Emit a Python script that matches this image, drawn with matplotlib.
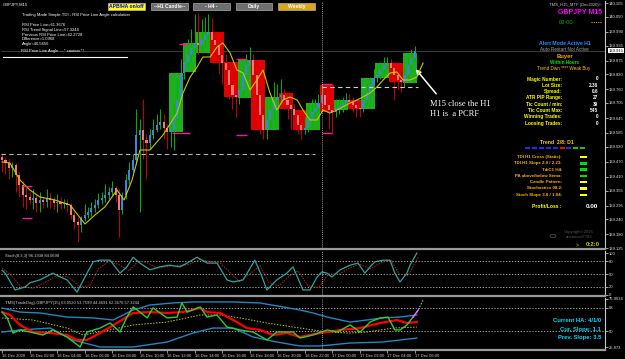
import numpy as np
import matplotlib
matplotlib.use('Agg')
import matplotlib.pyplot as plt
from matplotlib.patches import Rectangle, Circle
from matplotlib.lines import Line2D

plt.rcParams['font.family'] = ['Liberation Sans', 'DejaVu Sans']

# ---------------- data ----------------
# M15 candles (bar 0 = 16 Dec 2020 00:00)
first_open = 139.490
m15_close = [139.477, 139.465, 139.445, 139.457, 139.417, 139.377, 139.337, 139.329, 139.317, 139.325,
             139.305, 139.317, 139.309, 139.325, 139.317, 139.305, 139.309, 139.301, 139.305, 139.297,
             139.257, 139.229, 139.217, 139.245, 139.257, 139.269, 139.285, 139.297, 139.317, 139.325,
             139.337, 139.349, 139.365, 139.337, 139.277, 139.337, 139.397, 139.437, 139.477, 139.577,
             139.597, 139.557, 139.545, 139.577, 139.597, 139.617, 139.629, 139.605, 139.589, 139.597,
             139.645, 139.717, 139.825, 139.869, 139.897, 139.925, 139.945, 139.937, 139.957, 139.977,
             139.989, 139.957, 139.937, 139.897, 139.865, 139.837, 139.777, 139.737, 139.729, 139.757,
             139.817, 139.857, 139.877, 139.817, 139.737, 139.657, 139.597, 139.637, 139.677, 139.717,
             139.729, 139.737, 139.717, 139.697, 139.681, 139.657, 139.617, 139.597, 139.605, 139.637,
             139.669, 139.685, 139.705, 139.737, 139.697, 139.677, 139.669, 139.685, 139.693, 139.705,
             139.717, 139.709, 139.697, 139.685, 139.681, 139.717, 139.749, 139.777, 139.805, 139.817,
             139.837, 139.857, 139.865, 139.845, 139.817, 139.797, 139.789, 139.817, 139.857, 139.885,
             139.915]
m15_high = [139.505, 139.490, 139.480, 139.470, 139.465, 139.430, 139.395, 139.370, 139.350, 139.360,
            139.340, 139.350, 139.335, 139.360, 139.345, 139.330, 139.340, 139.330, 139.320, 139.320,
            139.305, 139.270, 139.250, 139.255, 139.300, 139.290, 139.310, 139.320, 139.345, 139.350,
            139.380, 139.370, 139.395, 139.375, 139.360, 139.350, 139.420, 139.470, 139.500, 139.680,
            139.640, 139.720, 139.580, 139.600, 139.640, 139.660, 139.680, 139.660, 139.620, 139.620,
            139.700, 139.800, 139.880, 139.940, 139.960, 140.000, 140.060, 140.065, 140.040, 140.050,
            140.060, 140.045, 139.990, 139.960, 139.930, 139.900, 139.860, 139.800, 139.780, 139.800,
            139.860, 139.900, 139.930, 139.900, 139.830, 139.760, 139.680, 139.720, 139.720, 139.790,
            139.780, 139.800, 139.760, 139.740, 139.720, 139.700, 139.680, 139.640, 139.650, 139.700,
            139.720, 139.720, 139.740, 139.780, 139.770, 139.720, 139.700, 139.720, 139.720, 139.730,
            139.745, 139.740, 139.730, 139.720, 139.710, 139.740, 139.780, 139.810, 139.840, 139.860,
            139.870, 139.890, 139.890, 139.880, 139.860, 139.840, 139.830, 139.850, 139.890, 139.920,
            139.935]
m15_low = [139.430, 139.420, 139.400, 139.410, 139.350, 139.330, 139.290, 139.280, 139.300, 139.280,
           139.270, 139.270, 139.285, 139.290, 139.285, 139.280, 139.270, 139.280, 139.285, 139.270,
           139.240, 139.200, 139.150, 139.190, 139.235, 139.245, 139.255, 139.270, 139.285, 139.300,
           139.310, 139.320, 139.335, 139.310, 139.170, 139.260, 139.320, 139.380, 139.430, 139.460,
           139.270, 139.480, 139.400, 139.520, 139.560, 139.590, 139.600, 139.560, 139.520, 139.530,
           139.517, 139.620, 139.700, 139.800, 139.850, 139.870, 139.900, 139.900, 139.910, 139.930,
           139.950, 139.920, 139.880, 139.820, 139.780, 139.790, 139.720, 139.680, 139.650, 139.700,
           139.730, 139.800, 139.830, 139.780, 139.700, 139.580, 139.560, 139.560, 139.600, 139.640,
           139.690, 139.700, 139.680, 139.640, 139.600, 139.600, 139.580, 139.560, 139.580, 139.590,
           139.620, 139.650, 139.670, 139.690, 139.680, 139.600, 139.580, 139.650, 139.660, 139.670,
           139.690, 139.680, 139.670, 139.650, 139.650, 139.670, 139.700, 139.730, 139.760, 139.790,
           139.800, 139.820, 139.840, 139.810, 139.717, 139.760, 139.750, 139.770, 139.800, 139.840,
           139.870]

# H1 boxes (start bar, open, close)
h1_start = [49, 53, 57, 61, 65, 69, 73, 77, 81, 85, 89, 93, 97, 101, 105, 109, 113, 117]
h1_open = [139.589, 139.829, 139.905, 139.989, 139.869, 139.725, 139.877, 139.597, 139.745,
           139.677, 139.597, 139.777, 139.677, 139.717, 139.681, 139.805, 139.865, 139.785]
h1_close = [139.825, 139.945, 139.989, 139.865, 139.729, 139.877, 139.597, 139.729, 139.681,
            139.597, 139.705, 139.669, 139.717, 139.681, 139.805, 139.865, 139.789, 139.905]

# yellow moving average
ma_bar = [0, 2.3, 5.2, 8.1, 11.0, 15.4, 19.8, 24.1, 27.0, 29.9, 33.4, 35.5, 37.8, 40.1, 43.0,
          46.8, 50.9, 52.6, 54.7, 56.7, 58.4, 60.5, 62.5, 64.2, 66.3, 68.3, 70.1, 72.1, 74.1, 75.9,
          77.9, 79.9, 81.7, 83.7, 85.8, 87.5, 89.5, 91.6, 93.3, 95.3, 97.4, 101.2, 103.2, 104.9,
          107.0, 109.0, 110.8, 112.8, 114.8, 116.6, 118.6, 120.6, 122.4]
ma_price = [139.469, 139.465, 139.397, 139.357, 139.329, 139.317, 139.297, 139.221, 139.257,
            139.289, 139.357, 139.317, 139.397, 139.517, 139.517, 139.577, 139.665, 139.745,
            139.809, 139.849, 139.889, 139.889, 139.929, 139.945, 139.905, 139.837, 139.825,
            139.757, 139.797, 139.837, 139.745, 139.677, 139.717, 139.729, 139.717, 139.677,
            139.637, 139.637, 139.677, 139.665, 139.677, 139.705, 139.717, 139.729, 139.745,
            139.769, 139.797, 139.825, 139.829, 139.797, 139.797, 139.809, 139.865]

# magenta H1 high/low markers
mk_bar0 = [5.8, 5.8, 49.4, 51.5, 68.0, 68.0, 93.0, 93.0]
mk_bar1 = [8.7, 8.7, 54.7, 54.4, 71.2, 71.2, 96.0, 96.0]
mk_price = [139.373, 139.245, 139.585, 139.941, 139.881, 139.577, 139.781, 139.585]

price_ticks = [140.105, 140.050, 139.990, 139.935, 139.875, 139.820, 139.760, 139.705, 139.645,
               139.585, 139.530, 139.470, 139.410, 139.355, 139.295, 139.240, 139.180, 139.125]

# stochastic
st_bar = [0, 0.9, 3.8, 6.7, 8.1, 11, 14.8, 16.9, 18.9, 21.8, 24.7, 26.5, 28.5, 31.4, 34.3, 36.3,
          38.1, 40.1, 43, 45.9, 48.8, 51.7, 53.8, 56.7, 59.6, 62.5, 65.4, 67.2, 70.1, 73.5, 75.6,
          77, 79.9, 82.8, 84.6, 87.5, 89.5, 91.6, 93, 94.5, 95.9, 98.3, 101.2, 103.5, 105.5, 107,
          108.4, 110.8, 112.8, 114.2, 115.7, 117.7, 118.6, 120.6]
st_main = [59, 52, 12, 19, 29, 36, 52, 43, 36, 7, 52, 79, 83, 83, 52, 67, 90, 76, 60, 67, 71, 67,
           76, 90, 76, 76, 36, 31, 36, 83, 43, 12, 36, 52, 67, 12, 12, 43, 55, 52, 43, 60, 71, 76,
           52, 67, 79, 83, 83, 52, 31, 52, 71, 100]
sg_bar = [0, 2.5, 5.5, 9.0, 12.5, 16.0, 19.5, 22.5, 25.5, 28.0, 31.0, 34.0, 37.0, 39.5, 42.0,
          45.0, 48.0, 51.0, 54.0, 57.5, 60.5, 63.5, 66.5, 69.0, 72.0, 75.0, 77.5, 80.5, 83.5, 86.0,
          89.0, 92.0, 95.0, 98.0, 101.0, 104.0, 107.0, 110.0, 113.0, 115.5, 118.0, 121.0]
sg_val = [64, 48, 20, 16, 30, 46, 42, 20, 22, 62, 80, 72, 58, 80, 78, 64, 68, 70, 72, 84, 80, 76,
          52, 32, 50, 70, 30, 22, 45, 58, 22, 18, 50, 50, 64, 74, 62, 76, 84, 50, 46, 90]

# TDI
up_bar = [0, 5.2, 11.0, 18.9, 26.5, 32.3, 38.1, 43.0, 49.7, 55.5, 67.2, 75.0, 81.7, 86.6, 90.4,
          94.5, 101.2, 106.1, 110.8, 115.7, 120.6]
up_val = [68.0, 64.8, 64.1, 60.9, 60.2, 58.6, 66.4, 70.3, 71.9, 72.7, 72.7, 71.9, 68.75, 66.4,
          64.1, 60.9, 57.0, 58.6, 60.2, 60.9, 62.5]
lo_bar = [0, 5.2, 14.0, 20.6, 28.5, 38.1, 48.0, 55.5, 61.3, 67.2, 73.0, 79.9, 86.6, 92.4, 101.2,
          110.8, 120.6]
lo_val = [49.2, 50.8, 52.3, 43.0, 37.5, 37.5, 41.4, 48.4, 52.3, 52.3, 45.3, 41.4, 38.3, 38.3,
          40.6, 41.4, 44.5]
red_bar = [0, 2.3, 5.2, 9.0, 14.0, 18.9, 21.8, 24.7, 28.5, 33.4, 38.1, 43.0, 48.0, 52.6, 57.6,
           59.6, 63.4, 67.2, 71.2, 75.0, 78.8, 82.8, 86.6, 92.4, 98.3, 104.1, 109.9, 114.8, 117.7,
           120.6]
red_val = [64.8, 62.5, 54.7, 49.2, 48.4, 46.9, 43.0, 43.0, 48.4, 56.25, 64.1, 64.8, 64.1, 64.8,
           68.0, 64.8, 64.1, 58.6, 52.3, 50.8, 46.9, 48.4, 45.3, 48.4, 50.8, 52.3, 56.25, 58.6,
           56.25, 57.0]
grn_bar = [0, 1.5, 3.2, 5.2, 8.1, 11.9, 14.8, 18.9, 22.7, 24.7, 28.5, 31.4, 34.3, 36.3, 38.1,
           40.1, 42.2, 43.9, 48.0, 50.9, 52.3, 53.8, 57.6, 59.6, 62.5, 65.4, 69.2, 73.0, 77.0,
           79.9, 84.6, 86.6, 90.4, 94.5, 97.4, 101.2, 104.1, 107.0, 109.9, 112.2, 114.2, 115.7,
           117.7, 119.5]
grn_val = [64.8, 60.2, 48.4, 50.8, 49.2, 46.9, 50.8, 45.3, 37.5, 49.2, 52.3, 56.25, 49.2, 60.9,
           68.75, 64.8, 60.2, 68.0, 60.2, 60.9, 71.9, 64.8, 68.75, 60.9, 62.5, 53.1, 50.8, 49.2,
           43.0, 49.2, 49.2, 44.5, 46.9, 50.8, 49.2, 54.7, 49.2, 57.0, 60.2, 60.9, 50.8, 50.8,
           54.7, 60.9]
grn_ext_bar = [119.5, 121.0, 122.4]
grn_ext_val = [60.9, 66.4, 74.2]
yel_bar = [0, 9.0, 18.9, 23.5, 28.5, 38.1, 48.0, 57.6, 63.4, 69.2, 77.0, 86.6, 94.5, 101.2,
           106.1, 113.7, 120.6]
yel_val = [60.2, 58.6, 52.3, 46.9, 49.2, 54.7, 57.0, 62.5, 62.5, 60.2, 56.25, 52.3, 49.2, 48.4,
           49.2, 52.3, 53.1]

time_bars = [0, 8, 16, 24, 32, 40, 48, 56, 64, 72, 80, 88, 96, 104, 112, 120]
time_labels = ['16 Dec 2020', '16 Dec 02:00', '16 Dec 04:00', '16 Dec 06:00', '16 Dec 08:00',
               '16 Dec 10:00', '16 Dec 12:00', '16 Dec 14:00', '16 Dec 16:00', '16 Dec 18:00',
               '16 Dec 20:00', '16 Dec 22:00', '17 Dec 00:00', '17 Dec 02:00', '17 Dec 04:00',
               '17 Dec 06:00']

info_labels = ['Magic Number:', 'Lot Size:', 'Spread:', 'ATR PIP Range:', 'Tic Count / min:',
               'Tic Count Max:', 'Winning Trades:', 'Loosing Trades:']
info_values = ['0', '2.36', '0.6', '27', '39', '545', '0', '0']
trend_colors = ['#1a2cff'] * 5 + ['#ff0000', '#1a2cff', '#00d000', '#00d000']
ind_labels = ['TDI H1 Cross (Static):', 'TDI H1 Slope 2.0 / 2.23:', 'TdiC1 H4:',
              'PA above/below Sema:', 'Candle Pattern:', 'Stochastics 08.2:',
              'Stoch Slope 3.0 / 1.04:']
ind_colors = ['#ffff00', '#00e000', '#00e000', '#00e000', '#ffff00', '#ffff00', '#ffff00']

# ---------------- figure ----------------
W, H = 625, 359
fig = plt.figure(figsize=(W / 100, H / 100), dpi=100, facecolor='black')


def panel(y0, y1):
    a = fig.add_axes([1 / W, 1 - y1 / H, 604 / W, (y1 - y0) / H])
    a.set_facecolor('black')
    a.set_xlim(-0.3, 175.3)
    a.spines['left'].set_visible(False)
    a.spines['top'].set_visible(False)
    a.spines['right'].set_color('#c8c8c8')
    a.spines['right'].set_linewidth(0.8)
    a.spines['bottom'].set_color('#9a9a9a')
    a.spines['bottom'].set_linewidth(1.6)
    a.yaxis.tick_right()
    a.tick_params(axis='y', colors='#e0e0e0', labelsize=3, length=2, width=0.5, pad=1)
    a.tick_params(axis='x', bottom=False, labelbottom=False)
    return a


def ftext(x, y, s, **kw):
    kw.setdefault('va', 'center')
    fig.text(x / W, 1 - y / H, s, **kw)


def fline(x0, x1, y0, y1, **kw):
    fig.add_artist(Line2D([x0 / W, x1 / W], [1 - y0 / H, 1 - y1 / H], transform=fig.transFigure, **kw))


def frect(x0, y0, x1, y1, fc, ec='none', lw=0.5):
    fig.add_artist(Rectangle((x0 / W, 1 - y1 / H), (x1 - x0) / W, (y1 - y0) / H,
                             transform=fig.transFigure, facecolor=fc, edgecolor=ec, lw=lw))


# ---- main price panel ----
ax = panel(1, 249)
ax.set_ylim(139.121, 140.113)
ax.set_yticks(price_ticks)
ax.set_yticklabels([f'{p:.3f}' for p in price_ticks])

close = np.array(m15_close)
opn = np.r_[first_open, close[:-1]]
high = np.array(m15_high)
low = np.array(m15_low)
bars = np.arange(len(close))
up = close >= opn

# H1 boxes
for s, o, c in zip(h1_start, h1_open, h1_close):
    ax.bar(s - 0.5, c - o, bottom=o, width=4, align='edge',
           color='#1fae1f' if c >= o else '#e00000', zorder=1)

ax.vlines(bars[up], low[up], high[up], color='#00b800', lw=0.7, zorder=2)
ax.vlines(bars[~up], low[~up], high[~up], color='#c80000', lw=0.7, zorder=2)
body = np.where(np.abs(close - opn) < 0.003, 0.003, close - opn)
ax.bar(bars[up], body[up], bottom=opn[up], width=0.6, color='#3c84e0', zorder=3)
ax.bar(bars[~up], body[~up], bottom=opn[~up], width=0.6, color='#f07a7a', zorder=3)

ax.plot(ma_bar, ma_price, color='#c8c800', lw=0.8, zorder=4)
ax.hlines(mk_price, mk_bar0, mk_bar1, color='#ff1493', lw=1.0, zorder=4)

ax.hlines(139.501, -0.3, 91, color='#b0b0b0', lw=0.8, ls=(0, (4, 3)), zorder=4)
ax.hlines(139.769, 93, 121, color='#d0d0d0', lw=0.8, ls=(0, (4, 3)), zorder=4)
ax.axhline(close[-1], color='#555555', lw=0.5, zorder=0)
ax.annotate(f'{close[-1]:.3f}', xy=(1.006, close[-1]), xycoords=('axes fraction', 'data'),
            fontsize=3, color='black', va='center', ha='left',
            bbox=dict(boxstyle='square,pad=0.15', fc='white', ec='none'))

# ---- stochastic panel ----
ax_st = panel(251, 296)
ax_st.set_ylim(-2.4, 104.8)
ax_st.set_yticks([100, 80, 50, 20, 0])
for lvl in (80, 50, 20):
    ax_st.axhline(lvl, color='#c0c0c0', lw=0.6, ls=(0, (1.5, 2)))
ax_st.plot(sg_bar, sg_val, color='#c02020', lw=0.7, ls=(0, (1.5, 1.2)))
ax_st.plot(st_bar, st_main, color='#2aa5a5', lw=0.9)
ax_st.text(0.006, 0.9, 'Stoch(8,3,3) 96.1938 84.0698', transform=ax_st.transAxes,
           fontsize=3, color='#d0d0d0', va='center')

# ---- TDI panel ----
ax_t = panel(298, 350)
ax_t.set_ylim(35.16, 75.78)
ax_t.set_yticks([75.2, 68, 50, 37.5])
ax_t.set_yticklabels(['75.9634', '68', '50', '25.873'])
for lvl in (68, 50):
    ax_t.axhline(lvl, color='#c0c0c0', lw=0.6, ls=(0, (1.5, 2)))
ax_t.plot(up_bar, up_val, color='#1e88c0', lw=1.0)
ax_t.plot(lo_bar, lo_val, color='#1e88c0', lw=1.0)
ax_t.plot(yel_bar, yel_val, color='#c8c800', lw=0.7, ls=(0, (1.5, 1.5)))
ax_t.plot(red_bar, red_val, color='#ff0000', lw=1.6)
ax_t.plot(grn_bar, grn_val, color='#33cc33', lw=1.0)
ax_t.plot(grn_ext_bar, grn_ext_val, color='#40c8c8', lw=0.8, ls=(0, (1.5, 1.2)))
ax_t.plot(grn_ext_bar[:2], grn_ext_val[:2], color='#ff66ff', lw=1.0)
ax_t.text(0.006, 0.9, 'TMS(TradeDog)-GBPJPY(15) 63.0520 53.7599 44.4691 62.3676 57.3244',
          transform=ax_t.transAxes, fontsize=3, color='#d0d0d0', va='center')
ax_t.set_xticks(time_bars)
ax_t.set_xticklabels(time_labels, ha='left')
ax_t.tick_params(axis='x', bottom=True, labelbottom=True, colors='#d0d0d0', labelsize=3,
                 length=2, width=0.5, pad=1)

for a in (ax, ax_st, ax_t):
    a.axvline(93.0, color='#c8c8c8', lw=0.6, ls=(0, (1, 1.5)), zorder=5)

# ---------------- overlay texts ----------------
ftext(3, 5, 'GBPJPY,M15', fontsize=3, color='white')
ftext(22, 15, 'Trading Made Simple.TDI - RSI Price Line Angle calculation', fontsize=3, color='white')
left_lines = ['RSI Price Line=61.3676', 'RSI Trend Signal Line=57.3244',
              'Previous RSI Price Line=62.2728', 'Difference=1.0968', 'Angle=46.5656']
for k, s in enumerate(left_lines):
    ftext(22, 25 + 4.8 * k, s, fontsize=3, color='white')
ftext(21, 51, 'RSI Price Line Angle ... * caution *!', fontsize=3, color='white')
fline(3, 127, 57, 57, color='white', lw=0.8)

# buttons
buttons = [(108, 145, 'APB/HA on/off', '#ffff00', '#0000ff'),
           (151, 188, '--H1 Candle--', '#6e6e6e', 'white'),
           (193, 230, '- H4 -', '#6e6e6e', 'white'),
           (236, 272, 'Daily', '#6e6e6e', 'white'),
           (278, 315, 'Weekly', '#daa520', 'white')]
for x0, x1, lab, fc, tc in buttons:
    frect(x0, 3, x1, 10, fc, ec='#c8c8c8', lw=0.4)
    ftext((x0 + x1) / 2, 6.6, lab, ha='center', fontsize=3.6, fontweight='bold', color=tc)

# top right
ftext(602, 5, 'TMS_H15_MTF (Dec2020)\u00a9', ha='right', fontsize=3, color='#c8c8c8')
ftext(602, 12, 'GBPJPY M15', ha='right', fontsize=5, fontweight='bold', color='#ff00ff')
ftext(566, 22, '02:00', ha='center', fontsize=4.2, color='#00b000')
fline(591, 601, 21.5, 21.5, color='#d4b000', lw=0.8, ls=(0, (1, 1)))

ftext(565, 43.5, 'Alert Mode Active H1', ha='center', fontsize=3.7, fontweight='bold', color='#1e90ff')
ftext(564, 49.5, 'Auto Restart Not Active', ha='center', fontsize=3.3, color='#a8a8a8')
ftext(565, 56.5, 'Buyer', ha='center', fontsize=4.2, fontweight='bold', color='#ffa500')
ftext(565, 62.5, 'Within Hours', ha='center', fontsize=3.3, fontweight='bold', color='#00e000')
ftext(564, 68.5, 'Trend Dwn **** Weak Buy', ha='center', fontsize=3.3, color='#ffc000')

for k, (lab, val) in enumerate(zip(info_labels, info_values)):
    y = 79 + 6.3 * k
    ftext(562, y, lab, ha='right', fontsize=3.4, fontweight='bold', color='#ffff00')
    ftext(598, y, val, ha='right', fontsize=3.4, fontweight='bold', color='white')

ftext(557, 142.5, 'Trend  2/8: D1', ha='center', fontsize=3.7, fontweight='bold', color='#ffcc00')
for k, c in enumerate(trend_colors):
    x0 = 525 + 6.9 * k
    frect(x0, 147, x0 + 5, 149.5, c)

for k, (lab, c) in enumerate(zip(ind_labels, ind_colors)):
    y = 157 + 6.3 * k
    ftext(562, y, lab, ha='right', fontsize=3.2, fontweight='bold', color='#ffb000')
    frect(580, y - 1.2, 587, y + 1.2, c)

ftext(562, 206, 'Profit/Loss :', ha='right', fontsize=3.6, fontweight='bold', color='#ffff00')
ftext(598, 206, '0.00', ha='right', fontsize=4.6, fontweight='bold', color='white')

fig.add_artist(Circle((553 / W, 1 - 236 / H), 3 / W, transform=fig.transFigure,
                      facecolor='none', edgecolor='#505050', lw=0.6))
ftext(579, 231.5, 'Copyright\u00a92016', ha='center', fontsize=3, color='#555555')
ftext(579, 237.5, 'aristocool7783', ha='center', fontsize=3, color='#555555')
ftext(577, 245, '>', ha='center', fontsize=3.8, color='#d4d000')
ftext(600, 245, '0:2:0', ha='right', fontsize=4.2, fontweight='bold', color='#d4d000')

# arrow + note
ax.annotate('', xy=(414, H - 67), xycoords='figure pixels', xytext=(438, H - 96),
            textcoords='figure pixels',
            arrowprops=dict(arrowstyle='-|>', color='white', lw=1.1, mutation_scale=7))
ftext(430, 104, 'M15 close the H1', fontsize=6, color='white', family='Liberation Serif')
ftext(430, 114, 'H1 is  a PCRF', fontsize=6, color='white', family='Liberation Serif')

# HA slope box
ftext(601, 321, 'Current HA: 4/1/0', ha='right', fontsize=4.2, fontweight='bold', color='#00d8ff')
ftext(601, 329, 'Cur. Slope: 1.1', ha='right', fontsize=4.2, fontweight='bold', color='#00d8ff')
ftext(601, 337, 'Prev. Slope: 3.5', ha='right', fontsize=4.2, fontweight='bold', color='#00d8ff')

fig.savefig('out.png', dpi=100, facecolor='black')
